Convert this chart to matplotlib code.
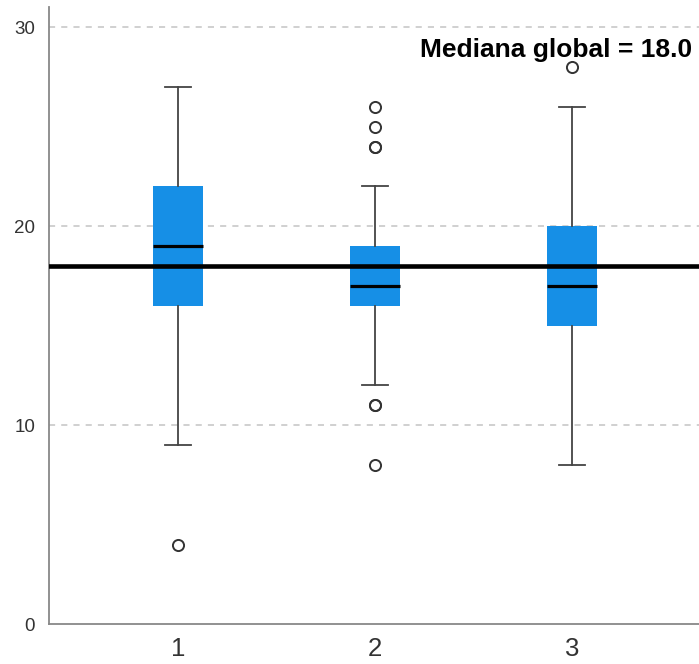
import matplotlib
matplotlib.use("Agg")
from matplotlib import pyplot as plt

plt.rcParams['font.family'] = ['Liberation Sans', 'DejaVu Sans']

# box statistics
groups = ["1", "2", "3"]
q1 = [16, 16, 15]
med = [19, 17, 17]
q3 = [22, 19, 20]
whislo = [9, 12, 8]
whishi = [27, 22, 26]
fliers = [[4], [8, 11, 11, 24, 24, 25, 26], [28]]
global_median = 18.0

stats = []
for i in range(len(groups)):
    stats.append(dict(label=groups[i], q1=q1[i], med=med[i], q3=q3[i],
                      whislo=whislo[i], whishi=whishi[i], fliers=fliers[i]))

fig = plt.figure(figsize=(6.99, 6.64), dpi=100)
ax = fig.add_axes([0.070, 0.060, 0.930, 0.929])

blue = '#168fe6'
ax.bxp(stats, positions=[1, 2, 3], widths=0.255, patch_artist=True,
       boxprops=dict(facecolor=blue, edgecolor=blue, linewidth=0),
       medianprops=dict(color='black', linewidth=2.3),
       whiskerprops=dict(color='#444444', linewidth=1.3),
       capprops=dict(color='#444444', linewidth=1.3),
       capwidths=0.13,
       flierprops=dict(marker='o', markerfacecolor='none', markeredgecolor='#333333',
                       markersize=8, markeredgewidth=1.4))

ax.axhline(global_median, color='black', linewidth=3.3, zorder=5)
ax.text(0.99, 28.5, f"Mediana global = {global_median:.1f}", transform=ax.get_yaxis_transform(),
        ha='right', va='baseline', fontsize=19, fontweight='bold', zorder=6)

ax.set_xlim(0.345, 3.645)
ax.set_ylim(0, 31)
ax.set_yticks([0, 10, 20, 30])
for y in [10, 20, 30]:
    ax.axhline(y, color='#c4c4c4', linewidth=1.1, linestyle=(0, (4, 4)), zorder=0)

for side in ['top', 'right']:
    ax.spines[side].set_visible(False)
for side in ['left', 'bottom']:
    ax.spines[side].set_color('#888888')
    ax.spines[side].set_linewidth(1.3)

ax.tick_params(axis='both', length=0)
ax.tick_params(axis='y', labelsize=13.5, colors='#333333', pad=10)
ax.tick_params(axis='x', labelsize=18.5, colors='#333333', pad=9)

fig.savefig("out.png", dpi=100)
